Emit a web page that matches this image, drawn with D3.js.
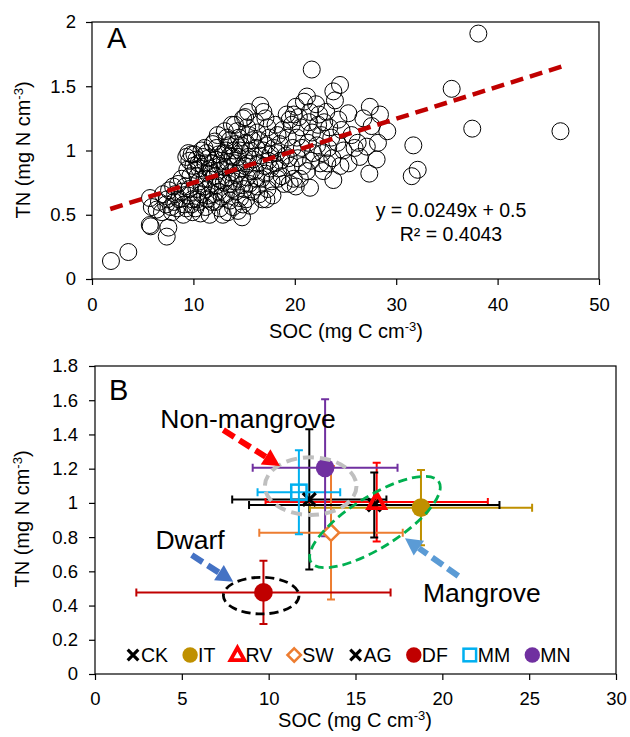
<!DOCTYPE html>
<html>
<head>
<meta charset="utf-8">
<script src="https://cdn.jsdelivr.net/npm/d3@7"></script>
<style>
  body { margin: 0; background: #fff; }
  svg { font-family: "Liberation Sans", Arial, sans-serif; }
</style>
</head>
<body>
<svg width="630" height="737"></svg>
<script>
// ---- panel A: SOC vs TN, individual samples [SOC, TN]
const samplePoints = [
  [1.87, 0.14], [3.58, 0.21], [5.79, 0.41], [5.7, 0.42], [7.37, 0.33], [7.53, 0.40],
  [5.72, 0.63], [5.9, 0.56], [6.38, 0.54], [6.6, 0.6], [7.0, 0.66], [6.9, 0.52],
  [7.4, 0.62], [7.6, 0.69], [7.8, 0.56], [7.3, 0.58], [8.0, 0.72], [8.1, 0.60], [7.9, 0.52],
  [8.4, 0.55], [8.6, 0.62], [8.85, 0.78], [8.9, 0.68], [8.5, 0.74], [8.2, 0.66], [9.0, 0.5], [9.1, 0.58],
  [9.3, 0.95], [9.5, 0.98], [9.6, 0.92], [9.4, 0.85], [9.7, 0.8], [9.2, 0.72], [9.5, 0.65],
  [9.8, 0.58], [9.9, 0.52], [9.6, 0.7], [10.0, 0.88], [9.9, 0.62], [9.3, 0.55], [9.83, 0.97],
  [10.1, 0.97], [10.3, 0.93], [10.5, 0.9], [10.2, 0.85], [10.4, 0.8], [10.6, 0.76], [10.3, 0.7],
  [10.8, 0.66], [10.5, 0.6], [10.2, 0.55], [10.7, 0.51], [10.9, 0.95], [10.6, 0.86], [11.0, 0.72],
  [10.4, 0.62], [10.8, 1.0],
  [11.1, 1.02], [11.3, 0.98], [11.5, 0.94], [11.2, 0.9], [11.6, 0.86], [11.4, 0.82], [11.1, 0.78],
  [11.7, 0.74], [11.3, 0.7], [11.5, 0.65], [11.8, 0.6], [11.2, 0.56], [11.6, 0.5], [11.9, 0.9],
  [11.9, 1.05], [11.4, 0.62], [11.7, 0.84],
  [12.1, 1.07], [12.3, 1.02], [12.5, 0.97], [12.2, 0.93], [12.6, 0.88], [12.4, 0.84], [12.1, 0.8],
  [12.7, 0.77], [12.3, 0.73], [12.5, 0.68], [12.8, 0.64], [12.2, 0.6], [12.6, 0.55], [12.9, 0.5],
  [12.0, 0.66], [12.8, 0.92], [12.4, 1.12],
  [13.1, 1.15], [13.3, 1.1], [13.5, 1.04], [13.2, 1.0], [13.6, 0.96], [13.4, 0.91], [13.1, 0.87],
  [13.7, 0.83], [13.3, 0.79], [13.5, 0.74], [13.8, 0.7], [13.2, 0.66], [13.6, 0.61], [13.9, 0.56],
  [13.4, 0.52], [13.8, 1.2], [13.9, 0.95], [13.0, 0.75], [13.6, 1.08], [13.0, 0.98],
  [14.1, 1.2], [14.3, 1.15], [14.5, 1.1], [14.2, 1.05], [14.6, 1.0], [14.4, 0.95], [14.1, 0.9],
  [14.7, 0.86], [14.3, 0.82], [14.5, 0.78], [14.8, 0.73], [14.2, 0.68], [14.6, 0.63], [14.9, 0.58],
  [14.4, 0.53], [14.8, 0.48], [14.9, 1.25], [14.0, 0.76], [14.7, 1.04], [14.0, 1.0],
  [15.1, 1.26], [15.3, 1.18], [15.5, 1.12], [15.2, 1.06], [15.6, 1.0], [15.4, 0.95], [15.1, 0.88],
  [15.7, 0.84], [15.3, 0.79], [15.5, 0.74], [15.8, 0.68], [15.2, 0.62], [15.6, 0.57], [15.9, 0.93],
  [15.4, 1.3], [15.0, 0.7], [15.8, 1.08], [15.3, 0.9],
  [16.1, 1.22], [16.3, 1.14], [16.5, 1.08], [16.2, 1.02], [16.6, 0.96], [16.4, 0.9], [16.1, 0.84],
  [16.7, 0.78], [16.3, 0.72], [16.5, 0.66], [16.8, 0.62], [16.9, 1.3], [16.6, 1.35], [17.0, 0.88],
  [16.9, 1.0], [16.2, 0.78],
  [17.1, 1.25], [17.3, 1.18], [17.5, 1.1], [17.2, 1.04], [17.6, 0.97], [17.4, 0.92], [17.1, 0.82],
  [17.7, 0.76], [17.3, 0.7], [17.8, 0.65], [17.2, 0.62], [17.9, 1.02], [17.6, 0.86],
  [18.1, 1.2], [18.3, 1.12], [18.5, 1.05], [18.2, 0.98], [18.6, 0.92], [18.4, 0.86], [18.7, 0.8],
  [18.9, 0.74], [18.8, 1.16], [18.0, 0.9], [18.3, 0.78],
  [19.2, 1.28], [19.5, 1.24], [19.7, 1.2], [19.3, 1.1], [19.8, 1.02], [19.4, 0.94], [19.6, 0.88],
  [19.9, 0.78], [19.5, 0.74], [19.1, 0.96], [19.9, 1.28],
  [20.1, 1.34], [20.4, 1.26], [20.6, 1.18], [20.2, 1.1], [20.7, 1.02], [20.3, 0.94], [20.8, 0.88],
  [20.5, 0.78], [20.1, 0.72], [20.9, 1.38],
  [21.2, 1.42], [21.5, 1.3], [21.4, 1.22], [21.7, 1.14], [21.3, 1.06], [21.8, 0.98], [21.6, 0.92],
  [21.2, 0.84], [21.5, 0.71], [21.67, 1.63],
  [22.1, 1.36], [22.4, 1.28], [22.3, 1.2], [22.6, 1.12], [22.2, 1.04], [22.7, 0.98], [22.5, 0.9],
  [22.9, 1.22], [22.8, 0.84],
  [23.1, 1.3], [23.4, 1.18], [23.8, 1.46], [23.96, 1.39], [23.6, 1.1], [23.3, 1.02], [23.8, 0.77],
  [23.7, 0.94], [23.2, 0.9],
  [24.46, 1.51], [24.3, 1.24], [24.6, 1.16], [24.2, 1.06], [24.8, 1.0], [24.5, 0.88],
  [25.28, 1.29], [25.3, 0.9], [25.9, 1.02], [25.6, 1.12], [26.2, 1.06], [26.76, 1.25], [26.4, 0.95],
  [27.4, 1.34], [27.58, 1.19], [27.1, 1.03], [27.35, 0.82], [28.07, 0.93], [28.2, 1.06], [28.4, 1.28],
  [29.12, 1.15],
  [31.69, 1.04], [31.53, 0.80], [32.12, 0.85], [35.47, 1.48], [37.5, 1.17], [38.1, 1.91], [46.2, 1.15]
];
const fitSlope = 0.0249;
const fitIntercept = 0.5;
const fitRange = [1.8, 46.3];
const equationLines = ["y = 0.0249x + 0.5", "R² = 0.4043"];
const xTicksA = [0, 10, 20, 30, 40, 50];
const yTicksA = [0, 0.5, 1, 1.5, 2];

// ---- panel B: site means with error bars
const sites = ["CK", "IT", "RV", "SW", "AG", "DF", "MM", "MN"];
const socMean = [12.34, 18.77, 16.22, 13.59, 16.08, 9.7, 11.74, 13.25];
const socErr = [4.44, 6.4, 6.4, 4.13, 7.21, 7.32, 2.38, 4.17];
const tnMean = [1.02, 0.972, 1.005, 0.826, 0.988, 0.477, 1.062, 1.205];
const tnErr = [0.41, 0.22, 0.23, 0.39, 0.19, 0.185, 0.245, 0.40];
const xTicksB = [0, 5, 10, 15, 20, 25, 30];
const yTicksB = [0, 0.2, 0.4, 0.6, 0.8, 1, 1.2, 1.4, 1.6, 1.8];

const siteColor = {
  CK: "#000000", IT: "#BF9000", RV: "#FF0000", SW: "#ED7D31",
  AG: "#000000", DF: "#C00000", MM: "#00B0F0", MN: "#7030A0"
};
const siteShape = {
  CK: "cross", IT: "dot", RV: "triangle", SW: "diamond",
  AG: "cross", DF: "dot", MM: "square", MN: "dot"
};
// marker stacking, back to front
const markerOrder = ["CK", "IT", "SW", "AG", "RV", "DF", "MM", "MN"];

const svg = d3.select("svg");
const font = "'Liberation Sans', Arial, sans-serif";

const xA = d3.scaleLinear().domain([0, 50]).range([92, 599]);
const yA = d3.scaleLinear().domain([0, 2]).range([279, 22]);
const xB = d3.scaleLinear().domain([0, 30]).range([95, 616]);
const yB = d3.scaleLinear().domain([0, 1.8]).range([674, 366]);

const fmt = d => String(+d.toFixed(1));

const styleAxis = g => {
  g.select(".domain").remove();
  g.selectAll(".tick line").attr("stroke", "#000").attr("stroke-width", 1.2);
  g.selectAll("text").attr("font-size", 18.5).attr("font-family", font).attr("fill", "#000");
};

const axisTitle = (x, y, main, rotate) => {
  const t = svg.append("text")
    .attr("transform", `translate(${x},${y})` + (rotate ? " rotate(-90)" : ""))
    .attr("text-anchor", "middle")
    .attr("font-size", 20)
    .attr("fill", "#000");
  t.append("tspan").text(main + " cm");
  t.append("tspan").attr("font-size", 13).attr("dy", -7.5).text("-3");
  t.append("tspan").attr("dy", 7.5).text(")");
};

// ================= Panel A =================
const gA = svg.append("g");

gA.append("g")
  .attr("transform", `translate(0,${yA(0)})`)
  .call(d3.axisBottom(xA).tickValues(xTicksA).tickSize(6).tickSizeOuter(0).tickPadding(13).tickFormat(fmt))
  .call(styleAxis);

gA.append("g")
  .attr("transform", `translate(${xA(0)},0)`)
  .call(d3.axisLeft(yA).tickValues(yTicksA).tickSize(6).tickSizeOuter(0).tickPadding(10).tickFormat(fmt))
  .call(styleAxis);

gA.selectAll("circle.pt")
  .data(samplePoints)
  .enter()
  .append("circle")
  .attr("class", "pt")
  .attr("cx", d => xA(d[0]))
  .attr("cy", d => yA(d[1]))
  .attr("r", 8.5)
  .attr("fill", "none")
  .attr("stroke", "#000")
  .attr("stroke-width", 1);

gA.append("line")
  .attr("x1", xA(fitRange[0]))
  .attr("y1", yA(fitSlope * fitRange[0] + fitIntercept))
  .attr("x2", xA(fitRange[1]))
  .attr("y2", yA(fitSlope * fitRange[1] + fitIntercept))
  .attr("stroke", "#C00000")
  .attr("stroke-width", 4.5)
  .attr("stroke-dasharray", "13,7");

gA.append("rect")
  .attr("x", xA(0)).attr("y", yA(2))
  .attr("width", xA(50) - xA(0)).attr("height", yA(0) - yA(2))
  .attr("fill", "none").attr("stroke", "#000").attr("stroke-width", 1.2);

gA.selectAll("text.eq")
  .data(equationLines)
  .enter()
  .append("text")
  .attr("class", "eq")
  .attr("x", 451)
  .attr("y", (d, i) => 217 + i * 24)
  .attr("text-anchor", "middle")
  .attr("font-size", 19.5)
  .text(d => d);

gA.append("text").attr("x", 107).attr("y", 48).attr("font-size", 29).text("A");

axisTitle(346, 338, "SOC (mg C", false);
axisTitle(30, 150, "TN (mg N", true);

// ================= Panel B =================
const gB = svg.append("g");

gB.append("g")
  .attr("transform", `translate(0,${yB(0)})`)
  .call(d3.axisBottom(xB).tickValues(xTicksB).tickSize(6).tickSizeOuter(0).tickPadding(12).tickFormat(fmt))
  .call(styleAxis);

gB.append("g")
  .attr("transform", `translate(${xB(0)},0)`)
  .call(d3.axisLeft(yB).tickValues(yTicksB).tickSize(6).tickSizeOuter(0).tickPadding(11).tickFormat(fmt))
  .call(styleAxis);

gB.append("rect")
  .attr("x", xB(0)).attr("y", yB(1.8))
  .attr("width", xB(30) - xB(0)).attr("height", yB(0) - yB(1.8))
  .attr("fill", "none").attr("stroke", "#000").attr("stroke-width", 1.2);

const drawMarker = (g, shape, color, x, y, s) => {
  if (shape === "dot") {
    g.append("circle").attr("cx", x).attr("cy", y).attr("r", s * 0.55).attr("fill", color);
  } else if (shape === "cross") {
    const h = s * 0.38;
    g.append("path")
      .attr("d", `M${x - h},${y - h}L${x + h},${y + h}M${x - h},${y + h}L${x + h},${y - h}`)
      .attr("stroke", color).attr("stroke-width", 3.2).attr("fill", "none");
  } else if (shape === "triangle") {
    const h = s * 0.52;
    g.append("path")
      .attr("d", `M${x},${y - h}L${x + h * 0.95},${y + h * 0.7}L${x - h * 0.95},${y + h * 0.7}Z`)
      .attr("stroke", color).attr("stroke-width", 3.8).attr("fill", "none")
      .attr("stroke-linejoin", "miter");
  } else if (shape === "diamond") {
    const h = s * 0.48;
    g.append("path")
      .attr("d", `M${x},${y - h}L${x + h},${y}L${x},${y + h}L${x - h},${y}Z`)
      .attr("stroke", color).attr("stroke-width", 2.5).attr("fill", "#fff");
  } else if (shape === "square") {
    const h = s * 0.45;
    g.append("rect").attr("x", x - h).attr("y", y - h).attr("width", 2 * h).attr("height", 2 * h)
      .attr("stroke", color).attr("stroke-width", 2.5).attr("fill", "none");
  }
};

// error bars
sites.forEach((s, i) => {
  const c = siteColor[s];
  const cx = xB(socMean[i]);
  const cy = yB(tnMean[i]);
  const x0 = xB(socMean[i] - socErr[i]);
  const x1 = xB(socMean[i] + socErr[i]);
  const y0 = yB(tnMean[i] - tnErr[i]);
  const y1 = yB(tnMean[i] + tnErr[i]);
  const cap = 4;
  gB.append("path")
    .attr("d", `M${x0},${cy}H${x1}M${x0},${cy - cap}V${cy + cap}M${x1},${cy - cap}V${cy + cap}` +
      `M${cx},${y0}V${y1}M${cx - cap},${y0}H${cx + cap}M${cx - cap},${y1}H${cx + cap}`)
    .attr("fill", "none")
    .attr("stroke", c)
    .attr("stroke-width", 2);
});

// markers
markerOrder.forEach(s => {
  const i = sites.indexOf(s);
  drawMarker(gB, siteShape[s], siteColor[s], xB(socMean[i]), yB(tnMean[i]), 17);
});

// group outlines (centre in data units, radii in px)
const outlines = [
  { cx: 12.42, cy: 1.098, rx: 45.8, ry: 28.8, rot: 0, color: "#BFBFBF", w: 4, dash: "11,6" },
  { cx: 16.12, cy: 0.888, rx: 75.5, ry: 25.6, rot: -32.2, color: "#00B050", w: 2.8, dash: "9,5" },
  { cx: 9.57, cy: 0.458, rx: 37.8, ry: 18.3, rot: 0, color: "#000000", w: 2.8, dash: "9,5" }
];
outlines.forEach(o => {
  gB.append("ellipse")
    .attr("transform", `translate(${xB(o.cx)},${yB(o.cy)}) rotate(${o.rot})`)
    .attr("rx", o.rx).attr("ry", o.ry)
    .attr("fill", "none").attr("stroke", o.color)
    .attr("stroke-width", o.w).attr("stroke-dasharray", o.dash);
});

// arrows and labels (data units)
const arrows = [
  { from: [7.39, 1.426], to: [10.65, 1.216], color: "#FF0000" },
  { from: [5.57, 0.695], to: [7.96, 0.539], color: "#4472C4" },
  { from: [20.92, 0.573], to: [17.85, 0.793], color: "#5B9BD5" }
];
arrows.forEach(a => {
  const x1 = xB(a.from[0]), y1 = yB(a.from[1]);
  const x2 = xB(a.to[0]), y2 = yB(a.to[1]);
  const dx = x2 - x1, dy = y2 - y1;
  const len = Math.hypot(dx, dy);
  const ux = dx / len, uy = dy / len;
  const hl = 17, hw = 9;
  const bx = x2 - ux * hl, by = y2 - uy * hl;
  gB.append("line")
    .attr("x1", x1).attr("y1", y1).attr("x2", bx).attr("y2", by)
    .attr("stroke", a.color).attr("stroke-width", 6).attr("stroke-dasharray", "13,6");
  gB.append("path")
    .attr("d", `M${x2},${y2}L${bx - uy * hw},${by + ux * hw}L${bx + uy * hw},${by - ux * hw}Z`)
    .attr("fill", a.color);
});

const labels = [
  { text: "Non-mangrove", x: 8.81, y: 1.44 },
  { text: "Dwarf", x: 5.47, y: 0.73 },
  { text: "Mangrove", x: 22.28, y: 0.419 }
];
gB.selectAll("text.lab")
  .data(labels)
  .enter()
  .append("text")
  .attr("class", "lab")
  .attr("x", d => xB(d.x))
  .attr("y", d => yB(d.y))
  .attr("text-anchor", "middle")
  .attr("font-size", 26.5)
  .text(d => d.text);

gB.append("text").attr("x", 109).attr("y", 400).attr("font-size", 29).text("B");

// legend
let lx = 125;
const ly = 655;
sites.forEach(s => {
  drawMarker(gB, siteShape[s], siteColor[s], lx + 8, ly, 14);
  const t = gB.append("text")
    .attr("x", lx + 16)
    .attr("y", ly + 7)
    .attr("font-size", 19.5)
    .text(s);
  lx += 16 + t.node().getComputedTextLength() + 14;
});

axisTitle(355, 727, "SOC (mg C", false);
axisTitle(29, 519, "TN (mg N", true);
</script>
</body>
</html>
